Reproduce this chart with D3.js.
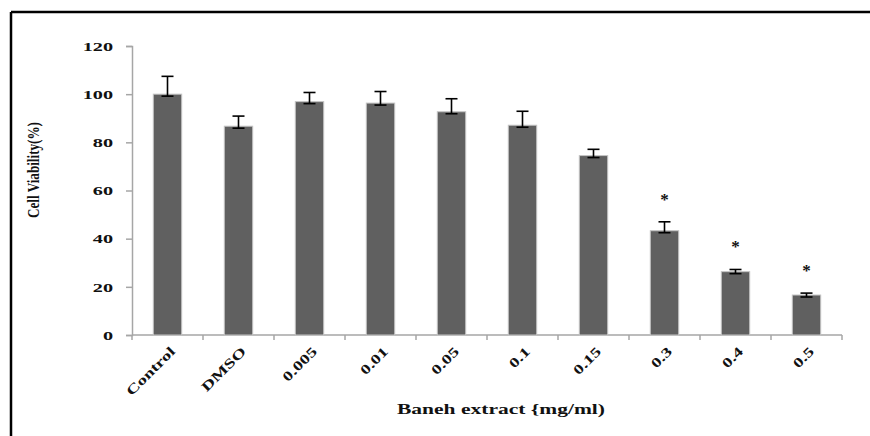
<!DOCTYPE html>
<html>
<head>
<meta charset="utf-8">
<script src="https://cdn.jsdelivr.net/npm/d3@7"></script>
<style>
  body { margin: 0; background: #fff; }
  svg { display: block; }
  text { font-family: "Liberation Serif", "Times New Roman", serif; font-weight: bold; fill: #111; }
</style>
</head>
<body>
<svg width="870" height="436"></svg>
<script>
// cell viability data
var groups = ["Control", "DMSO", "0.005", "0.01", "0.05", "0.1", "0.15", "0.3", "0.4", "0.5"];
var viability = [100, 86.7, 96.9, 96.3, 92.7, 87.1, 74.5, 43.3, 26.3, 16.6];
var errors = [7.4, 4.2, 3.8, 4.8, 5.4, 5.8, 2.6, 3.7, 0.9, 0.8];
var significant = ["0.3", "0.4", "0.5"];
var yTicks = [0, 20, 40, 60, 80, 100, 120];

var svg = d3.select("svg"),
    width = +svg.attr("width"),
    height = +svg.attr("height");

var margin = {left: 132, right: 28, top: 46, bottom: 101};
var stretch = 1.5; // the original fonts are drawn wide

// frame lines (top + left only)
svg.append("line").attr("x1", 11).attr("y1", 12).attr("x2", width).attr("y2", 12)
    .attr("stroke", "#000").attr("stroke-width", 2.5);
svg.append("line").attr("x1", 11).attr("y1", 12).attr("x2", 11).attr("y2", height)
    .attr("stroke", "#000").attr("stroke-width", 2.5);

var x = d3.scaleBand()
    .domain(groups)
    .range([margin.left, width - margin.right])
    .paddingInner(0.6)
    .paddingOuter(0.3);

var y = d3.scaleLinear()
    .domain([0, 120])
    .range([height - margin.bottom, margin.top]);

var axisColor = "#a6a6a6";

// y axis
var yAxis = svg.append("g")
    .attr("transform", "translate(" + margin.left + ",0)")
    .call(d3.axisLeft(y).tickValues(yTicks).tickSize(6));
yAxis.select(".domain").attr("stroke", axisColor).attr("stroke-width", 1.5);
yAxis.selectAll(".tick line").attr("stroke", axisColor).attr("stroke-width", 1.5);
yAxis.selectAll("text")
    .attr("x", -19 / stretch)
    .attr("transform", "scale(" + stretch + ",1)")
    .attr("font-size", 13.5).attr("fill", "#111")
    .attr("font-family", "Liberation Serif").attr("font-weight", "bold");

// x axis, ticks between categories
var bounds = d3.range(groups.length + 1).map(function(i) {
  return margin.left + i * x.step();
});
var xg = svg.append("g");
xg.append("line")
    .attr("x1", margin.left).attr("x2", bounds[bounds.length - 1])
    .attr("y1", y(0)).attr("y2", y(0))
    .attr("stroke", axisColor).attr("stroke-width", 1.5);
xg.selectAll("line.tk")
    .data(bounds)
    .enter().append("line")
    .attr("class", "tk")
    .attr("x1", function(d) { return d; }).attr("x2", function(d) { return d; })
    .attr("y1", y(0)).attr("y2", y(0) + 5)
    .attr("stroke", axisColor).attr("stroke-width", 1.5);

xg.selectAll("text")
    .data(groups)
    .enter().append("text")
    .attr("transform", function(d) {
      return "translate(" + (x(d) + x.bandwidth() / 2 + 5) + "," + (y(0) + 14) + ") rotate(-45) scale(1.4,1)";
    })
    .attr("text-anchor", "end")
    .attr("dy", "0.35em")
    .attr("font-size", 13.5)
    .text(function(d) { return d; });

// bars
var bars = svg.append("g");
bars.selectAll("rect")
    .data(groups)
    .enter().append("rect")
    .attr("x", function(d) { return x(d); })
    .attr("width", x.bandwidth())
    .attr("y", function(d, i) { return y(viability[i]); })
    .attr("height", function(d, i) { return y(0) - y(viability[i]); })
    .attr("fill", "#606060")
    .attr("stroke", "#c4c4c4")
    .attr("stroke-width", 1);

// error bars
var err = svg.append("g").attr("stroke", "#000").attr("stroke-width", 1.6);
groups.forEach(function(g, i) {
  var cx = x(g) + x.bandwidth() / 2;
  var top = y(viability[i] + errors[i]);
  var bot = y(viability[i]) + 2;
  err.append("line").attr("x1", cx).attr("x2", cx).attr("y1", top).attr("y2", bot);
  err.append("line").attr("x1", cx - 6).attr("x2", cx + 6).attr("y1", top).attr("y2", top);
  err.append("line").attr("x1", cx - 6).attr("x2", cx + 6).attr("y1", bot).attr("y2", bot);

  if (significant.indexOf(g) >= 0) {
    svg.append("text")
        .attr("x", cx)
        .attr("y", top - 17)
        .attr("text-anchor", "middle")
        .attr("font-size", 17)
        .text("*");
  }
});

// axis titles
svg.append("text")
    .attr("transform", "translate(39," + 170 + ") rotate(-90)")
    .attr("text-anchor", "middle")
    .attr("font-size", 16)
    .attr("textLength", 96)
    .attr("lengthAdjust", "spacingAndGlyphs")
    .text("Cell Viability(%)");

svg.append("text")
    .attr("x", 501)
    .attr("y", 414)
    .attr("text-anchor", "middle")
    .attr("font-size", 15)
    .attr("textLength", 208)
    .attr("lengthAdjust", "spacingAndGlyphs")
    .text("Baneh extract {mg/ml)");
</script>
</body>
</html>
